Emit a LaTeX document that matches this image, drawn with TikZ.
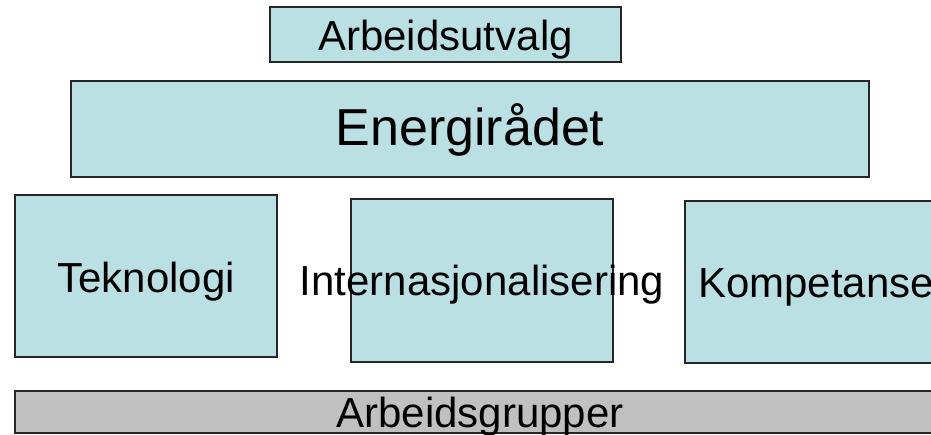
\documentclass[tikz,border=0pt]{standalone}
\usepackage{fontspec}
\setmainfont{Liberation Sans}
\definecolor{boxblue}{RGB}{187,224,227}
\definecolor{boxgray}{RGB}{192,192,192}
\begin{document}
\begin{tikzpicture}[x=1pt,y=-1pt,
  box/.style={draw=black!85, line width=1.5pt, fill=boxblue, inner sep=0pt, outer sep=0pt},
  graybox/.style={box, fill=boxgray},
  lbl/.style={anchor=base, inner sep=0pt, font=\fontsize{42}{50}\selectfont},
  biglbl/.style={lbl, font=\fontsize{52}{60}\selectfont}]
\useasboundingbox (0,0) rectangle (931,434);
\clip (0,0) rectangle (931,434);
% boxes
\node[box, minimum width=351pt, minimum height=55pt] (utvalg) at (445.5,34.5) {};
\node[box, minimum width=798pt, minimum height=96pt] (energi) at (470,129) {};
\node[box, minimum width=262pt, minimum height=162pt] (tek) at (146,276) {};
\node[box, minimum width=262pt, minimum height=163pt] (intl) at (482,280.5) {};
\node[box, minimum width=262pt, minimum height=162pt] (komp) at (816,282) {};
\node[graybox, minimum width=932pt, minimum height=42pt] (grupper) at (481,412) {};
% texts
\node[lbl] (tutvalg) at (445.5,50) {Arbeidsutvalg};
\node[biglbl] (tenergi) at (470,145) {Energirådet};
\node[lbl] (ttek) at (146,292) {Teknologi};
\node[lbl] (tintl) at (482,295) {Internasjonalisering};
\node[lbl] (tkomp) at (816,297) {Kompetanse};
\node[lbl] (tgrupper) at (480,427) {Arbeidsgrupper};
\end{tikzpicture}
\end{document}
